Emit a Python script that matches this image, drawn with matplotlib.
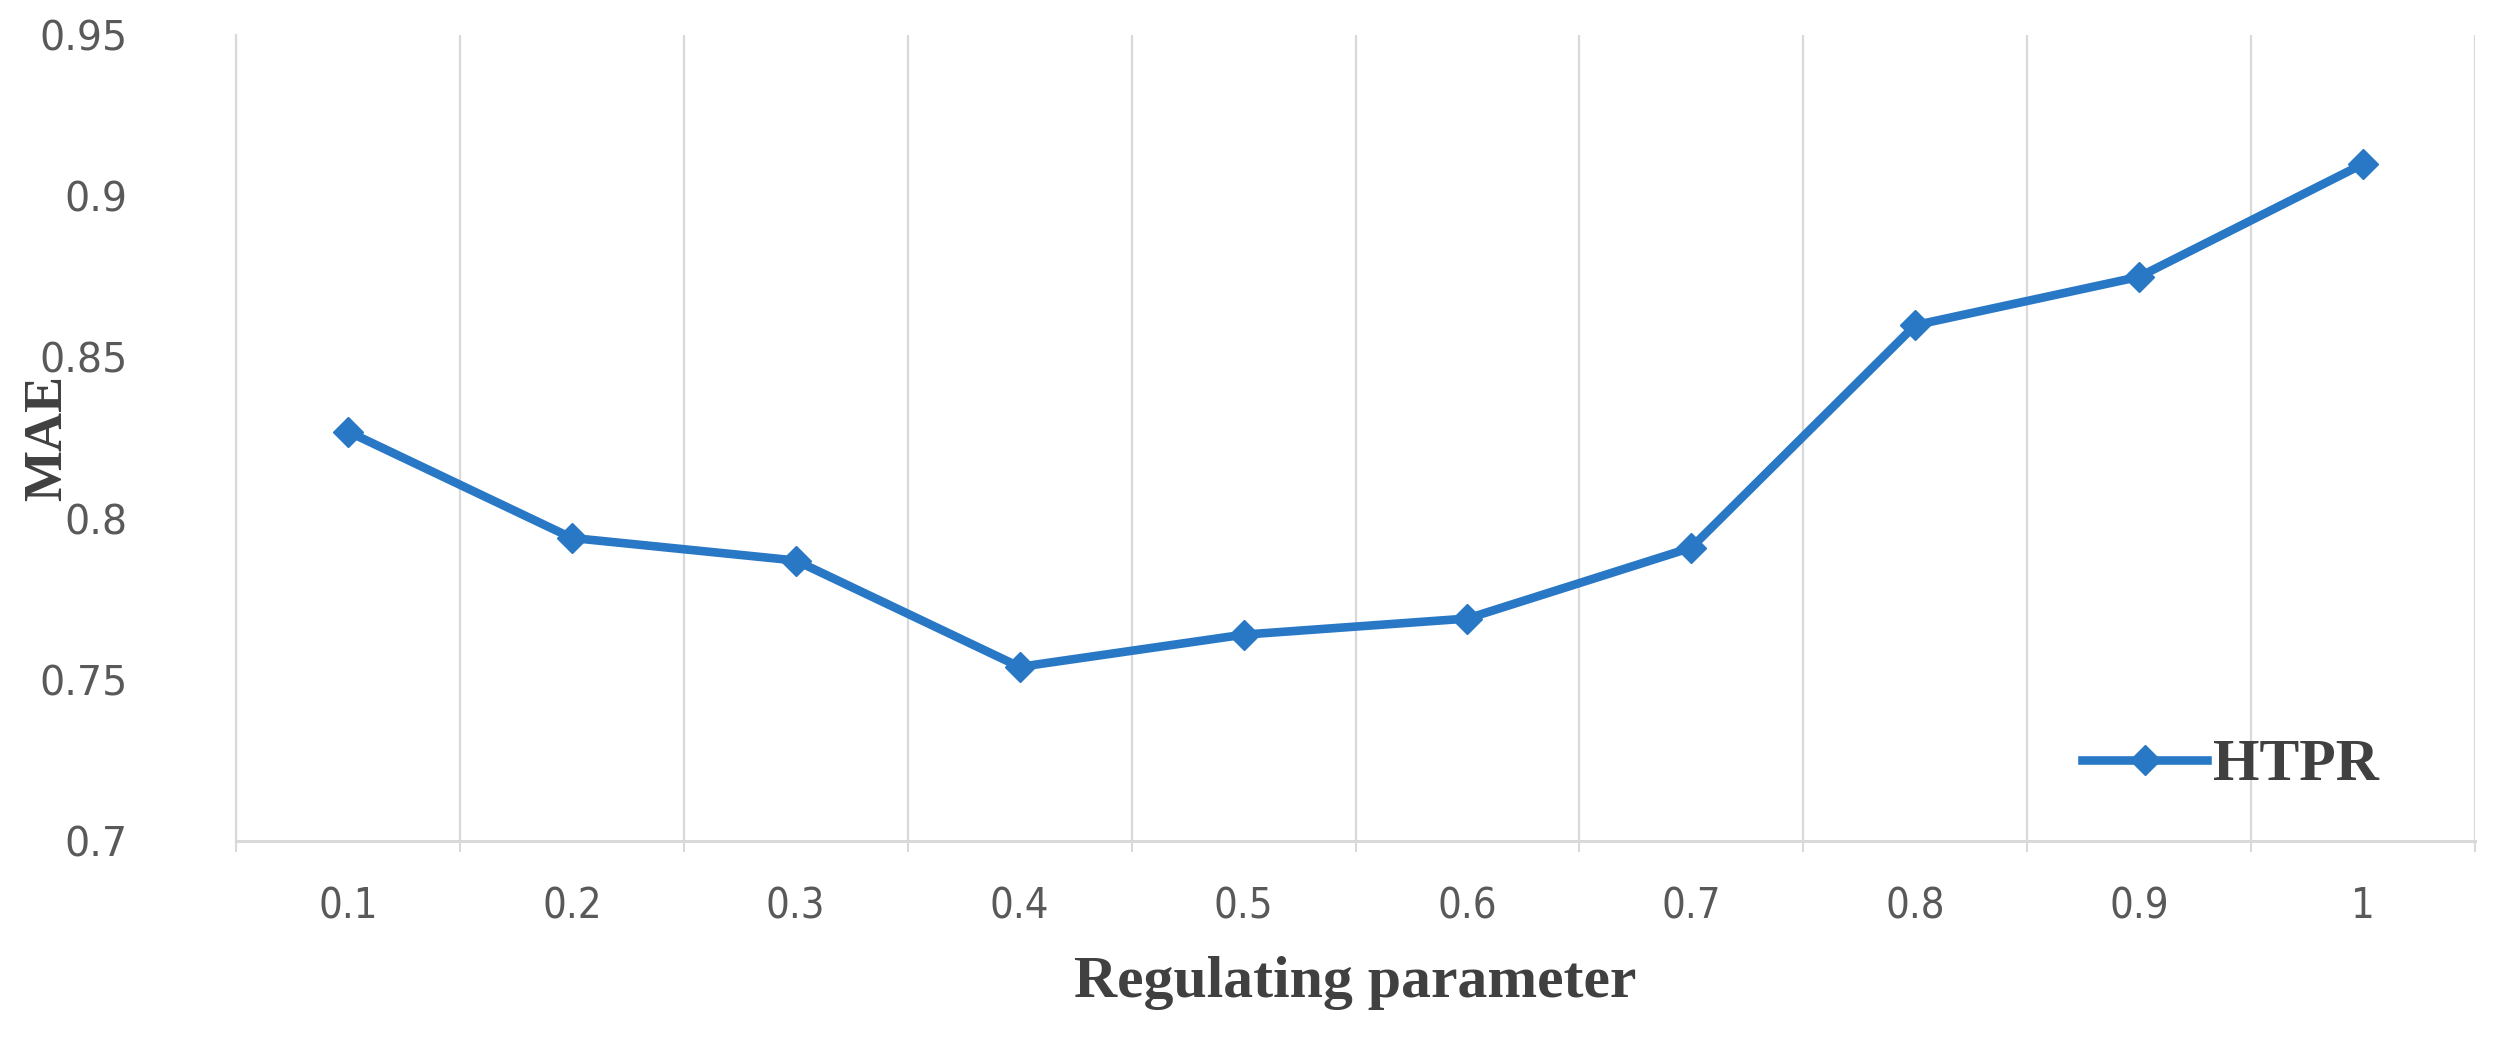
import matplotlib
matplotlib.use("Agg")
import matplotlib.pyplot as plt
from matplotlib.ticker import FixedLocator
import numpy as np

categories = ["0.1", "0.2", "0.3", "0.4", "0.5", "0.6", "0.7", "0.8", "0.9", "1"]
mae_htpr = [0.827, 0.794, 0.787, 0.754, 0.764, 0.769, 0.791, 0.860, 0.875, 0.910]
y_ticks = [0.7, 0.75, 0.8, 0.85, 0.9, 0.95]
y_tick_labels = ["0.7", "0.75", "0.8", "0.85", "0.9", "0.95"]
series_name = "HTPR"
x_label = "Regulating parameter"
y_label = "MAE"

W, H = 2502, 1044
fig = plt.figure(figsize=(W / 100, H / 100), dpi=100)
ax = fig.add_axes([236 / W, 1 - 841 / H, (2475 - 236) / W, (841 - 35) / H])

x = np.arange(1, len(categories) + 1)
line_color = "#2878C6"
grid_color = "#D9D9D9"
ax.plot(x, mae_htpr, color=line_color, lw=6.2, marker="D", ms=15,
        markeredgecolor=line_color, markerfacecolor=line_color, label=series_name)

ax.set_xlim(0.5, len(categories) + 0.5)
ax.set_ylim(0.7, 0.95)

ax.set_xticks(x)
ax.set_xticklabels(categories, family=["DejaVu Sans"], stretch="condensed",
                   fontsize=30, color="#595959")
ax.xaxis.set_minor_locator(FixedLocator(np.arange(0.5, len(categories) + 1, 1.0)))
ax.tick_params(axis="x", which="major", length=0, pad=32)
ax.tick_params(axis="x", which="minor", length=8, width=1.5, color=grid_color)
ax.grid(True, axis="x", which="minor", color=grid_color, lw=1.6)
ax.grid(False, axis="x", which="major")
ax.grid(False, axis="y")

ax.set_yticks(y_ticks)
ax.set_yticklabels(y_tick_labels, family="DejaVu Sans", fontsize=28.5, color="#595959")
ax.tick_params(axis="y", length=0, pad=78)

for s in ["top", "right"]:
    ax.spines[s].set_visible(False)
ax.spines["left"].set_color(grid_color)
ax.spines["left"].set_linewidth(1.6)
ax.spines["bottom"].set_color(grid_color)
ax.spines["bottom"].set_linewidth(2.2)

fig.text(1355 / W, 1 - 983 / H, x_label, ha="center", va="center",
         family="Liberation Serif", fontweight="bold", fontsize=43, color="#404040")
fig.text(48 / W, 1 - 438 / H, y_label, ha="center", va="center", rotation=90,
         family="Liberation Serif", fontweight="bold", fontsize=39, color="#404040")

leg = ax.legend(loc="center left", bbox_to_anchor=(2082 / W, 1 - 766 / H),
                bbox_transform=fig.transFigure, frameon=False, borderpad=0,
                borderaxespad=0, handlelength=2.1, handletextpad=0.1,
                prop={"family": "Liberation Serif", "weight": "bold", "size": 43})
for t in leg.get_texts():
    t.set_color("#404040")

fig.savefig("out.png", dpi=100, facecolor="white")
